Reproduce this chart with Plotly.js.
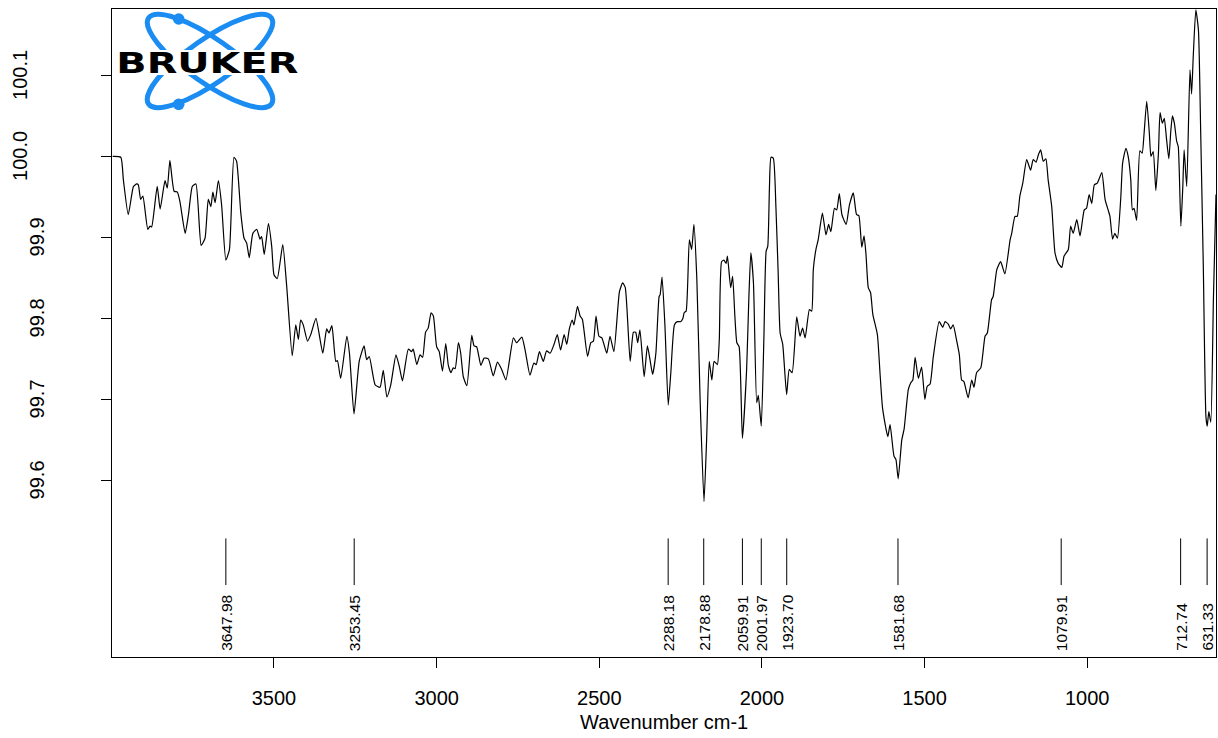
<!DOCTYPE html>
<html>
<head>
<meta charset="utf-8">
<script src="https://cdn.plot.ly/plotly-3.0.1.min.js"></script>
<style>
  html, body { margin: 0; padding: 0; background: #fff; }
  #chart { width: 1218px; height: 738px; }
</style>
</head>
<body>
<div id="chart"></div>
<script>
// ---- Data ----
const wavenumber = [
3996,3971,3963,3948,3932,3922,3917,3910,3903,3888,
3881,3876,3859,3850,3835,3828,3820,3807,3797,3789,
3773,3763,3751,3740,3724,3712,3702,3694,3688,3681,
3671,3661,3648,3637,3623,3615,3602,3592,3584,3576,
3565,3553,3543,3538,3530,3517,3507,3500,3490,3473,
3461,3444,3433,3425,3418,3410,3397,3387,3371,3350,
3338,3331,3322,3310,3305,3295,3276,3268,3254,3238,
3223,3215,3207,3189,3174,3164,3153,3141,3125,3115,
3105,3087,3077,3072,3061,3051,3043,3034,3026,3017,
3010,3000,2992,2982,2972,2964,2956,2949,2943,2933,
2926,2918,2907,2892,2885,2877,2864,2854,2841,2826,
2813,2800,2787,2764,2754,2738,2728,2713,2701,2694,
2684,2672,2662,2651,2639,2629,2619,2608,2600,2592,
2583,2578,2567,2559,2552,2536,2526,2518,2510,2501,
2492,2477,2467,2455,2438,2428,2420,2405,2395,2388,
2382,2375,2362,2352,2344,2336,2326,2316,2313,2307,
2298,2288,2280,2269,2260,2250,2243,2239,2233,2223,
2216,2209,2200,2190,2178,2170,2162,2154,2147,2137,
2131,2124,2117,2110,2106,2096,2090,2083,2077,2070,
2060,2047,2040,2034,2026,2016,2011,2002,1994,1987,
1982,1977,1972,1965,1957,1950,1944,1936,1924,1916,
1907,1893,1883,1875,1867,1854,1847,1842,1834,1827,
1814,1803,1795,1788,1777,1770,1762,1754,1741,1731,
1719,1709,1702,1693,1686,1680,1673,1666,1659,1645,
1637,1629,1613,1606,1594,1588,1581,1570,1563,1550,
1543,1536,1529,1519,1509,1499,1492,1483,1473,1455,
1444,1437,1427,1420,1412,1401,1393,1386,1379,1366,
1355,1348,1340,1327,1314,1307,1294,1289,1278,1266,
1253,1237,1232,1222,1215,1207,1198,1186,1174,1166,
1157,1150,1143,1135,1127,1120,1109,1099,1089,1078,
1071,1058,1051,1043,1032,1022,1009,1002,994,986,
978,969,955,945,935,930,922,915,907,897,
891,881,874,866,861,856,848,838,831,825,
817,809,804,797,789,781,776,769,763,756,
749,743,738,732,725,720,712,706,702,694,
684,679,674,666,658,651,643,635,631,626,
620,612,604
];
const transmittance = [
100.000,99.999,99.971,99.928,99.963,99.966,99.965,99.947,99.951,99.910,
99.914,99.913,99.963,99.935,99.970,99.961,99.995,99.957,99.956,99.944,
99.905,99.928,99.963,99.966,99.890,99.899,99.947,99.938,99.956,99.943,
99.970,99.940,99.872,99.885,99.999,99.994,99.930,99.899,99.893,99.875,
99.905,99.910,99.898,99.901,99.879,99.917,99.889,99.854,99.849,99.891,
99.840,99.754,99.792,99.774,99.798,99.792,99.772,99.780,99.800,99.757,
99.787,99.782,99.791,99.747,99.748,99.726,99.778,99.757,99.682,99.747,
99.766,99.749,99.753,99.718,99.715,99.736,99.703,99.718,99.755,99.741,
99.723,99.762,99.759,99.762,99.743,99.755,99.752,99.783,99.788,99.807,
99.803,99.765,99.759,99.735,99.769,99.742,99.733,99.739,99.738,99.770,
99.757,99.728,99.717,99.779,99.766,99.765,99.742,99.751,99.750,99.729,
99.746,99.737,99.724,99.776,99.770,99.777,99.761,99.730,99.745,99.743,
99.759,99.747,99.760,99.757,99.768,99.780,99.761,99.780,99.768,99.787,
99.798,99.792,99.815,99.803,99.799,99.753,99.770,99.772,99.803,99.778,
99.776,99.757,99.778,99.759,99.833,99.844,99.838,99.747,99.783,99.783,
99.770,99.786,99.728,99.766,99.749,99.731,99.757,99.827,99.829,99.851,
99.790,99.693,99.733,99.792,99.796,99.796,99.800,99.807,99.809,99.897,
99.885,99.916,99.848,99.700,99.574,99.650,99.747,99.724,99.747,99.743,
99.774,99.870,99.872,99.868,99.877,99.838,99.852,99.802,99.770,99.765,
99.652,99.737,99.827,99.881,99.844,99.696,99.705,99.667,99.774,99.883,
99.889,99.959,99.999,99.998,99.938,99.856,99.782,99.768,99.706,99.737,
99.733,99.802,99.778,99.788,99.776,99.811,99.809,99.860,99.885,99.897,
99.930,99.903,99.916,99.907,99.936,99.934,99.954,99.928,99.916,99.940,
99.955,99.928,99.927,99.888,99.902,99.879,99.838,99.832,99.805,99.780,
99.733,99.689,99.654,99.669,99.630,99.626,99.602,99.650,99.663,99.712,
99.720,99.724,99.752,99.726,99.740,99.700,99.716,99.719,99.753,99.796,
99.789,99.796,99.793,99.787,99.792,99.772,99.755,99.724,99.722,99.702,
99.724,99.715,99.733,99.739,99.778,99.782,99.823,99.827,99.860,99.870,
99.855,99.897,99.905,99.926,99.926,99.951,99.967,99.996,99.983,99.996,
99.993,100.002,100.008,99.994,99.997,99.971,99.938,99.881,99.868,99.863,
99.877,99.885,99.914,99.905,99.922,99.902,99.934,99.936,99.953,99.942,
99.965,99.967,99.980,99.947,99.933,99.926,99.898,99.905,99.899,99.947,
99.992,100.010,100.000,99.971,99.934,99.936,99.921,100.007,100.004,100.029,
100.068,100.029,100.000,100.006,99.958,100.004,100.054,100.041,100.047,100.021,
99.997,100.031,100.050,100.041,100.019,100.012,99.914,99.963,100.008,99.963,
100.107,100.077,100.123,100.181,100.156,100.029,99.864,99.679,99.667,99.685,
99.672,99.823,99.953
];
const peakPositions = [3647.98, 3253.45, 2288.18, 2178.88, 2059.91, 2001.97, 1923.70, 1581.68, 1079.91, 712.74, 631.33];
const xTickValues = [3500, 3000, 2500, 2000, 1500, 1000];
const yTickValues = [99.6, 99.7, 99.8, 99.9, 100.0, 100.1];
const xTitle = "Wavenumber cm-1";
const logoText = "BRUKER";

// ---- Build figure ----
const FONT = "Arial, 'Liberation Sans', sans-serif";

const trace = {
  x: wavenumber, y: transmittance, type: "scatter", mode: "lines",
  line: { color: "#000000", width: 1.2, shape: "spline", smoothing: 0.5 },
  hoverinfo: "skip"
};

const shapes = peakPositions.map(p => ({
  type: "line", xref: "x", yref: "paper", x0: p, x1: p, y0: 0.111, y1: 0.183,
  line: { color: "#000000", width: 1 }
}));

const annotations = [];
peakPositions.forEach(p => {
  annotations.push({
    x: p, xref: "x", y: 0, yref: "paper", xanchor: "center", yanchor: "bottom",
    yshift: 4, text: p.toFixed(2), textangle: -90, showarrow: false,
    font: { family: FONT, size: 15.5, color: "#000000" }
  });
});
yTickValues.forEach(v => {
  annotations.push({
    x: 0, xref: "paper", y: v, yref: "y", xanchor: "center", yanchor: "middle",
    xshift: v >= 100 ? -91.5 : -75, text: v.toFixed(1), textangle: -90, showarrow: false,
    font: { family: FONT, size: 20, color: "#000000" }
  });
});
annotations.push({
  x: 0.5, xref: "paper", y: 0, yref: "paper", xanchor: "center", yanchor: "middle",
  yshift: -65, text: xTitle, showarrow: false,
  font: { family: FONT, size: 20, color: "#000000" }
});
annotations.push({
  x: 0.0861, xref: "paper", y: 0.9174, yref: "paper", xanchor: "center", yanchor: "middle",
  text: logoText, showarrow: false,
  font: { family: "'DejaVu Sans', sans-serif", size: 29, color: "#000000", weight: 900 }
});

// Logo graphic (ellipses + dots), no text
const logoSvg =
  "<svg xmlns='http://www.w3.org/2000/svg' width='187' height='104' viewBox='0 0 187 104'>" +
  "<g fill='none' stroke='#1A8CF2' stroke-width='5'>" +
  "<ellipse cx='97' cy='52' rx='75' ry='22' transform='rotate(35 97 52)'/>" +
  "<ellipse cx='97' cy='52' rx='75' ry='22' transform='rotate(-35 97 52)'/>" +
  "</g>" +
  "<rect x='0' y='41' width='187' height='25' fill='#ffffff'/>" +
  "<circle cx='65.7' cy='10' r='5.8' fill='#1A8CF2'/>" +
  "<circle cx='65.7' cy='95.3' r='5.8' fill='#1A8CF2'/>" +
  "</svg>";
const logoUri = "data:image/svg+xml;charset=utf-8," + encodeURIComponent(logoSvg);

const layout = {
  width: 1218, height: 738,
  margin: { l: 112, r: 2, t: 9, b: 81, pad: 0 },
  paper_bgcolor: "#ffffff", plot_bgcolor: "rgba(0,0,0,0)",
  showlegend: false,
  font: { family: FONT, color: "#000000" },
  xaxis: {
    range: [3998, 604], tickvals: xTickValues, ticktext: xTickValues.map(String),
    ticks: "outside", ticklen: 10, tickwidth: 1, tickcolor: "#000000",
    showline: true, linecolor: "#000000", linewidth: 1, mirror: true,
    showgrid: false, zeroline: false, ticklabelstandoff: 13,
    tickfont: { family: FONT, size: 20, color: "#000000" }
  },
  yaxis: {
    range: [99.382, 100.182], tickvals: yTickValues,
    ticks: "outside", ticklen: 10, tickwidth: 1, tickcolor: "#000000",
    showticklabels: false,
    showline: true, linecolor: "#000000", linewidth: 1, mirror: true,
    showgrid: false, zeroline: false
  },
  shapes: shapes,
  annotations: annotations,
  images: [{
    source: logoUri, xref: "paper", yref: "paper",
    x: (113 - 112) / 1104, y: (657 - 9) / 648,
    sizex: 187 / 1104, sizey: 104 / 648,
    xanchor: "left", yanchor: "top", sizing: "stretch", layer: "above"
  }]
};

function stretchLogo() {
  document.querySelectorAll("text.annotation-text").forEach(t => {
    if (t.textContent === logoText) {
      t.setAttribute("textLength", "182");
      t.setAttribute("lengthAdjust", "spacingAndGlyphs");
    }
  });
}

Plotly.newPlot("chart", [trace], layout, { staticPlot: true, displayModeBar: false })
  .then(gd => { stretchLogo(); gd.on && gd.on("plotly_afterplot", stretchLogo); });
</script>
</body>
</html>
